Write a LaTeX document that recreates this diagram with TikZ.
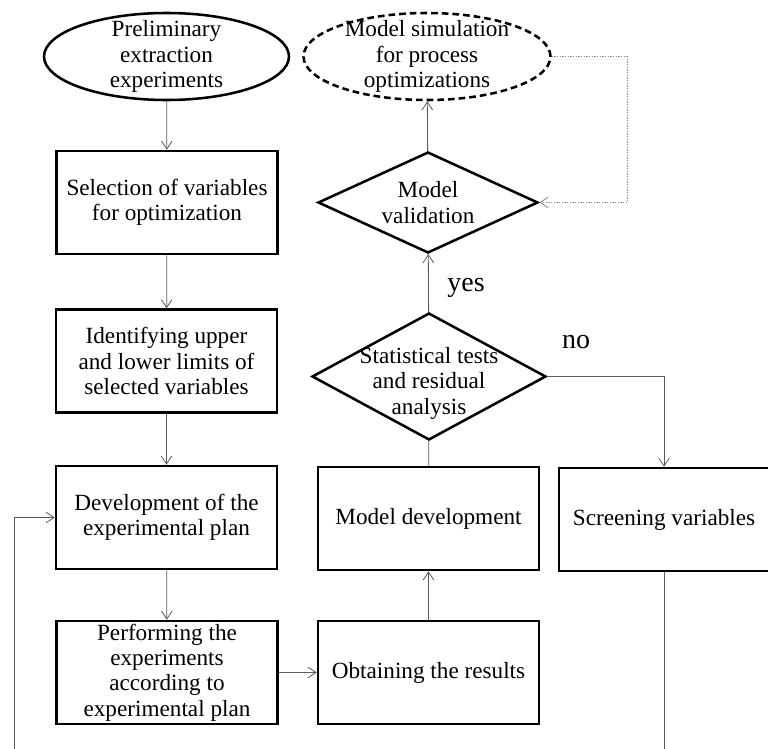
\documentclass[tikz,border=0pt]{standalone}
\usepackage{fontspec}
\setmainfont{Liberation Serif}
\usetikzlibrary{shapes.geometric,arrows.meta}
\definecolor{linegray}{gray}{0.35}
\definecolor{dotgray}{gray}{0.55}

\begin{document}
\begin{tikzpicture}[x=0.75pt,y=-0.75pt,font=\fontsize{17.4}{19.1}\selectfont]
 \tikzset{process/.style={draw, line width=1.9pt, minimum width=165.75pt, minimum height=77.25pt, inner sep=1pt, align=center}}
 \tikzset{decision/.style={draw, diamond, line width=1.9pt, inner sep=0pt}}
 \tikzset{terminal/.style={draw, ellipse, line width=1.9pt, inner sep=0pt, minimum width=183.75pt, minimum height=65.25pt}}
 \tikzset{flow/.style={draw=linegray, line width=0.6pt, -{Straight Barb[length=6pt,width=8pt]}}}
 \tikzset{dotflow/.style={draw=dotgray, line width=0.7pt, dash pattern=on 1pt off 1pt, -{Straight Barb[length=6pt,width=8pt]}}}
 \tikzset{answer/.style={font=\fontsize{21}{24}\selectfont}}
  \useasboundingbox (0,0) rectangle (768,749);

  \node[terminal, label={[align=center]center:Preliminary\\extraction\\experiments}] (Preliminary) at (166.5,56.5) {};
  \node[terminal, dash pattern=on 5pt off 3pt, minimum width=185.25pt, label={[align=center]center:Model simulation\\for process\\optimizations}] (Simulation) at (427,56.5) {};
  \node[process] (Selection) at (167,202.5) {Selection of variables\\for optimization};
  \node[process] (Limits) at (166.5,361) {Identifying upper\\and lower limits of\\selected variables};
  \node[process] (ExpPlan) at (166.5,517.5) {Development of the\\experimental plan};
  \node[process] (Performing) at (167,672.5) {Performing the\\experiments\\according to\\experimental plan};
  \node[process] (Results) at (428.5,672.5) {Obtaining the results};
  \node[process] (ModelDev) at (428.5,518.5) {Model development};
  \node[process, minimum width=157.5pt] (Screening) at (664,519.5) {Screening variables};
  \node[decision, minimum width=175.5pt, minimum height=95.25pt, label={[align=center,yshift=-5pt]center:Statistical tests\\and residual\\analysis}] (Stats) at (429,376.5) {};
  \node[decision, minimum width=165pt, minimum height=75.75pt, label={[align=center]center:Model\\validation}] (Validation) at (428,202.5) {};
  \node[answer] (Yes) at (466,288) {yes};
  \node[answer] (No) at (576,342) {no};

  \coordinate (DotCorner) at (627,56.5);
  \coordinate (LoopRight) at (664,775);
  \coordinate (LoopLeft) at (14,775);

  \draw[flow] (Preliminary) -- (Selection);
  \draw[flow] (Selection) -- (Limits);
  \draw[flow] (Limits) -- (ExpPlan);
  \draw[flow] (ExpPlan) -- (Performing);
  \draw[flow] (Performing) -- (Results);
  \draw[flow] (Results) -- (ModelDev);
  \draw[flow,-] (ModelDev) -- (Stats);
  \draw[flow] (Stats) -- (Validation);
  \draw[flow] (Validation) -- (Simulation);
  \draw[flow] (Stats.east) -| (Screening.north);
  \draw[dotflow] (Simulation.east) -- (DotCorner) |- (Validation.east);
  \draw[flow] (Screening.south) -- (LoopRight) -- (LoopLeft) |- (ExpPlan.west);
\end{tikzpicture}
\end{document}
